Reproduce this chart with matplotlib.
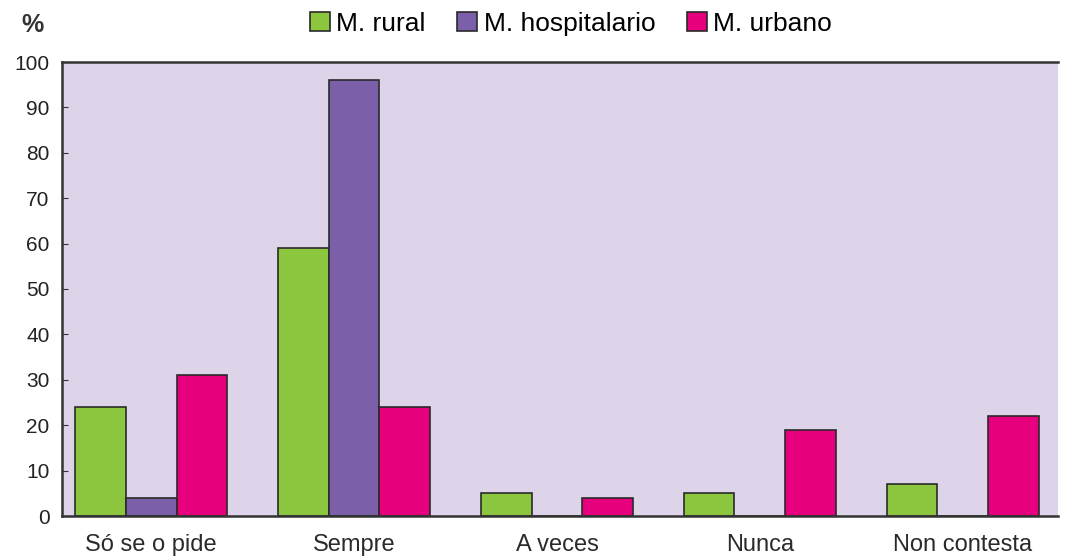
import numpy as np
import matplotlib
matplotlib.use("Agg")
import matplotlib.pyplot as plt

# datos (%)
categorias = ["Só se o pide", "Sempre", "A veces", "Nunca", "Non contesta"]
series = ["M. rural", "M. hospitalario", "M. urbano"]
rural = [24, 59, 5, 5, 7]
hospitalario = [4, 96, 0, 0, 0]
urbano = [31, 24, 4, 19, 22]
colores = ["#8cc63e", "#7b5fa8", "#e6007e"]

plt.rcParams['font.family'] = ['Liberation Sans', 'DejaVu Sans']

fig = plt.figure(figsize=(10.65, 5.59), dpi=100)
ax = fig.add_axes([62 / 1065, 1 - 516 / 559, 996 / 1065, 454 / 559])
ax.set_facecolor("#ddd4ea")

x = np.arange(len(categorias))
ancho = 0.25
for i, (valores, nombre) in enumerate(zip([rural, hospitalario, urbano], series)):
    ax.bar(x + (i - 1) * ancho, valores, ancho, color=colores[i],
           edgecolor="#2a2a2a", linewidth=1.2, label=nombre)

ax.set_xlim(-0.44, 4.47)
ax.set_ylim(0, 100)
ax.set_yticks(range(0, 101, 10))
ax.tick_params(axis='y', labelsize=15, length=4, direction='in', pad=9,
               color="#333333", labelcolor="#222222")
ax.set_xticks(x)
ax.set_xticklabels(categorias, fontsize=17, color="#2a2a2a")
ax.tick_params(axis='x', length=0, pad=13)
for s in ax.spines.values():
    s.set_color("#333333")
    s.set_linewidth(1.8)
ax.spines['right'].set_visible(False)

fig.text(33 / 1065, 1 - 25 / 559, "%", fontsize=18, fontweight='bold',
         color="#333333", ha='center', va='center')

ax.legend(loc='center', bbox_to_anchor=((571 - 62) / 996, 1 + 38 / 454), ncol=3,
          frameon=False, fontsize=19, handlelength=0.75, handleheight=0.75,
          handletextpad=0.25, columnspacing=1.2, borderaxespad=0)

fig.savefig("out.png", dpi=100)
